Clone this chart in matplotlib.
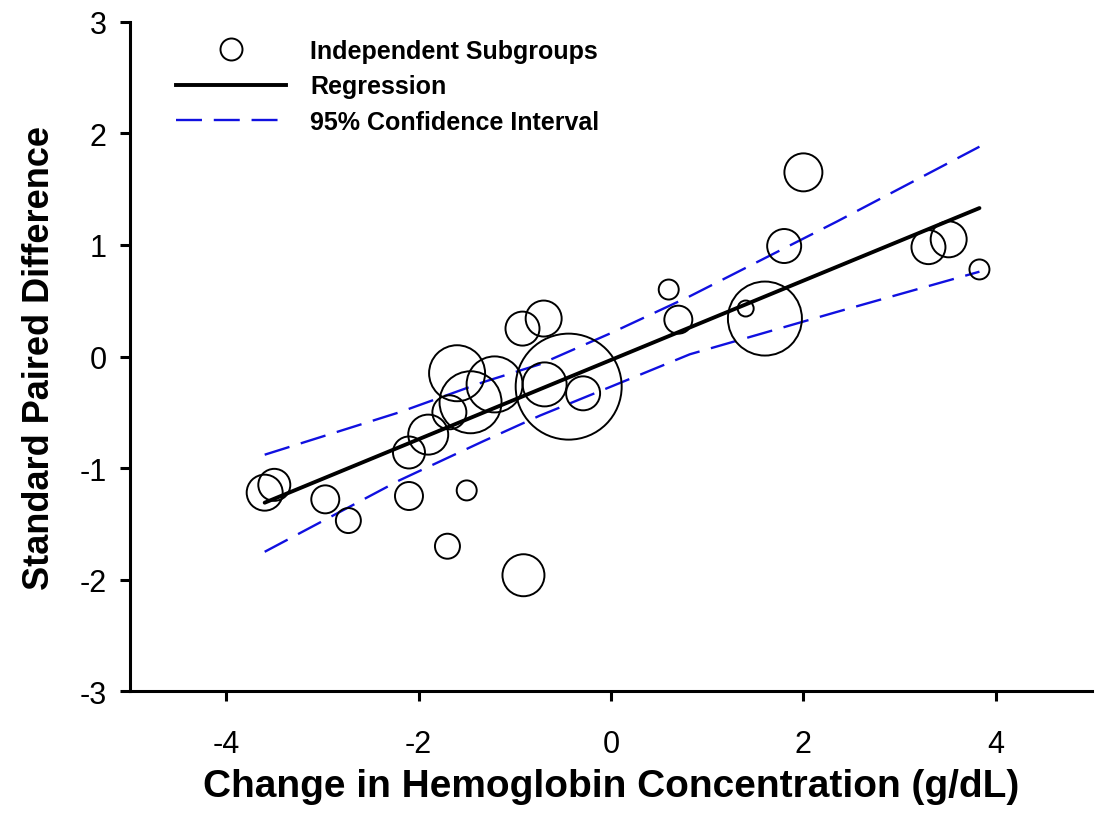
import matplotlib
matplotlib.use("Agg")
import matplotlib.pyplot as plt
from matplotlib.lines import Line2D
import numpy as np

# ---- data ----
hb_change = [-3.60, -3.50, -2.97, -2.73, -2.10, -2.10, -1.90, -1.68, -1.70, -1.50,
             -0.91, -1.60, -1.46, -1.21, -0.44, -0.69, -0.29, -0.92, -0.70,
             2.00, 1.80, 0.60, 0.70, 1.60, 1.40, 3.30, 3.51, 3.83]
paired_diff = [-1.22, -1.15, -1.28, -1.47, -1.25, -0.86, -0.70, -0.50, -1.70, -1.20,
               -1.96, -0.15, -0.41, -0.25, -0.27, -0.25, -0.33, 0.25, 0.34,
               1.65, 0.99, 0.60, 0.33, 0.34, 0.43, 0.98, 1.05, 0.78]
# relative bubble radius (subgroup weight)
weight = [18, 16, 14, 12.5, 14, 16, 20, 17, 12.5, 10,
          21, 28, 31, 28, 53, 22, 17, 17, 18,
          19, 17, 10, 14, 37, 8, 17, 18, 10]

reg_x = [-3.60, 3.83]
reg_y = [-1.31, 1.33]

ci_x = [-3.60, -2.20, -1.33, -0.74, 0.00, 0.82, 2.35, 3.83]
ci_upper = [-0.88, -0.50, -0.23, -0.07, 0.21, 0.54, 1.21, 1.88]
ci_lower = [-1.75, -1.11, -0.76, -0.53, -0.27, 0.02, 0.40, 0.76]

x_ticks = [-4, -2, 0, 2, 4]
y_ticks = [-3, -2, -1, 0, 1, 2, 3]

legend_labels = ["Independent Subgroups", "Regression", "95% Confidence Interval"]
x_label = "Change in Hemoglobin Concentration (g/dL)"
y_label = "Standard Paired Difference"

# ---- figure ----
DPI = 100
fig = plt.figure(figsize=(10.99, 8.20), dpi=DPI)
ax = fig.add_axes([130 / 1099, 1 - 692.3 / 820, (1092 - 130) / 1099, (692.3 - 22.7) / 820])

fam = ["Liberation Sans", "DejaVu Sans"]

px_to_pt = 72.0 / DPI
sizes = [(2 * w * px_to_pt) ** 2 for w in weight]
ax.scatter(hb_change, paired_diff, s=sizes, facecolors="none", edgecolors="black",
           linewidths=1.4, zorder=3)
ax.plot(reg_x, reg_y, color="black", lw=2.8, solid_capstyle="round", zorder=4)
ax.plot(ci_x, ci_upper, color="#1010e0", lw=1.7, dashes=(11, 5), zorder=2)
ax.plot(ci_x, ci_lower, color="#1010e0", lw=1.7, dashes=(11, 5), zorder=2)

ax.set_xlim(-5, 5)
ax.set_ylim(-3, 3)
ax.set_xticks(x_ticks)
ax.set_yticks(y_ticks)
ax.set_xticklabels([str(t) for t in x_ticks], family=fam, fontsize=22)
ax.set_yticklabels([str(t) for t in y_ticks], family=fam, fontsize=22)
ax.tick_params(direction="out", length=7, width=2.2)
ax.tick_params(axis="x", pad=20)
ax.tick_params(axis="y", pad=10)
for s in ["top", "right"]:
    ax.spines[s].set_visible(False)
for s in ["left", "bottom"]:
    ax.spines[s].set_linewidth(2.2)

ax.set_xlabel(x_label, family=fam, fontweight="bold", fontsize=28)
ax.xaxis.set_label_coords(0.5, -0.115)
ax.set_ylabel(y_label, family=fam, fontweight="bold", fontsize=26, labelpad=16)

handles = [
    Line2D([], [], ls="none", marker="o", markersize=2 * 11 * px_to_pt,
           markerfacecolor="none", markeredgecolor="black", markeredgewidth=1.4),
    Line2D([], [], color="black", lw=2.8),
    Line2D([], [], color="#1010e0", lw=1.7, dashes=(11, 5)),
]
ax.legend(handles, legend_labels, loc="upper left", bbox_to_anchor=(0.03, 1.0),
          frameon=False, handlelength=4.4, handletextpad=0.95, labelspacing=0.45,
          prop={"family": fam, "weight": "bold", "size": 18}, borderaxespad=0.3)

fig.savefig("out.png", dpi=DPI)
